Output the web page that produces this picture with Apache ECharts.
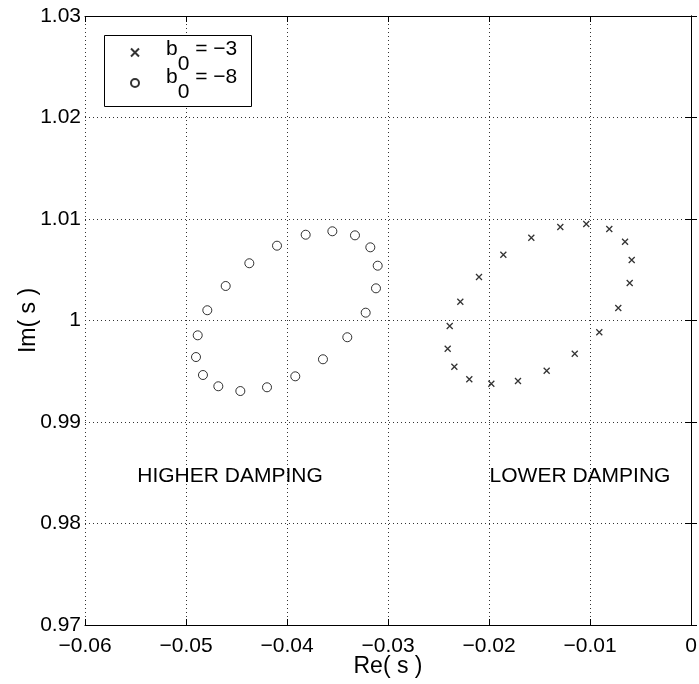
<!DOCTYPE html>
<html><head><meta charset="utf-8">
<script src="https://cdn.jsdelivr.net/npm/echarts@6/dist/echarts.min.js"></script>
<style>html,body{margin:0;padding:0;background:#fff}#c{width:699px;height:684px}</style>
</head><body><div id="c"></div>
<script>
const xTickLabels = ['−0.06','−0.05','−0.04','−0.03','−0.02','−0.01','0'];
const yTickLabels = ['0.97','0.98','0.99','1','1.01','1.02','1.03'];
const seriesNames = ['b0 = −3','b0 = −8'];

// b0 = -3 (crosses)
const reB3 = [-0.01037,-0.00809,-0.00653,-0.00587,-0.00607,-0.00720,-0.00908,-0.01151,-0.01429,-0.01713,
              -0.01977,-0.02195,-0.02343,-0.02409,-0.02389,-0.02284,-0.02099,-0.01858,-0.01581,-0.01294];
const imB3 = [1.00951,1.00902,1.00776,1.00596,1.00370,1.00123,0.99884,0.99673,0.99505,0.99404,
              0.99377,0.99421,0.99545,0.99722,0.99946,1.00185,1.00429,1.00648,1.00816,1.00921];
// b0 = -8 (circles)
const reB8 = [-0.03815,-0.03551,-0.03327,-0.03175,-0.03102,-0.03119,-0.03221,-0.03403,-0.03644,-0.03918,
              -0.04198,-0.04462,-0.04680,-0.04832,-0.04901,-0.04884,-0.04789,-0.04607,-0.04373,-0.04099];
const imB8 = [1.00845,1.00879,1.00839,1.00721,1.00540,1.00317,1.00077,0.99835,0.99618,0.99450,
              0.99342,0.99305,0.99352,0.99463,0.99640,0.99854,1.00101,1.00340,1.00564,1.00737];

const noteLabels = ['HIGHER DAMPING','LOWER DAMPING'];
const noteRe = [-0.04564,-0.01099];
const noteIm = [0.98465,0.98465];

const FONT = '"Liberation Sans", Arial, Helvetica, sans-serif';
const zip = (a,b) => a.map((v,i)=>[v,b[i]]);

const chart = echarts.init(document.getElementById('c'), null, {renderer:'canvas'});
const splitLine = {show:true, lineStyle:{color:'#333', width:1, type:[1,3]}};
const axisLine = {show:true, lineStyle:{color:'#000', width:1}};
const axisTick = {show:true, inside:true, length:6, lineStyle:{color:'#000'}};

const legendRich = {
  b:{fontSize:21, lineHeight:22, verticalAlign:'top', color:'#000', fontFamily:FONT},
  s:{fontSize:21, lineHeight:22, verticalAlign:'top', padding:[15,0,0,0], color:'#000', fontFamily:FONT},
  t:{fontSize:21, lineHeight:22, verticalAlign:'top', color:'#000', fontFamily:FONT}
};
function makeLegend(name, top, padBottom){
  return {
    data:[name], orient:'vertical', left:130, top:top, padding:0,
    itemWidth:10, itemHeight:8, z:5, selectedMode:false,
    formatter:(n)=>'{b|b}{s|0}{t|' + n.slice(2) + '}',
    textStyle:{color:'#000', fontFamily:FONT, fontSize:21, padding:[0,0,padBottom,21], rich:legendRich}
  };
}

chart.setOption({
  animation:false,
  backgroundColor:'#fff',
  textStyle:{fontFamily:FONT},
  grid:{left:85, right:8, top:16, bottom:59, containLabel:false, outerBoundsMode:'none'},
  xAxis:[{
    type:'value', min:-0.06, max:0, interval:0.01, position:'bottom',
    name:'Re( s )', nameLocation:'middle', nameGap:30, nameMoveOverlap:false,
    nameTextStyle:{fontSize:23, color:'#000', fontFamily:FONT},
    axisLine, axisTick, splitLine,
    axisLabel:{show:true, margin:11, fontSize:21, color:'#000', fontFamily:FONT,
      formatter:(v,i)=>xTickLabels[i] !== undefined ? xTickLabels[i] : ''}
  },{
    type:'value', min:-0.06, max:0, interval:0.01, position:'top',
    axisLine, axisTick, splitLine:{show:false}, axisLabel:{show:false}
  }],
  yAxis:[{
    type:'value', min:0.97, max:1.03, interval:0.01, position:'left',
    name:'Im( s )', nameLocation:'middle', nameGap:45, nameMoveOverlap:false,
    nameTextStyle:{fontSize:23, color:'#000', fontFamily:FONT},
    axisLine, axisTick, splitLine,
    axisLabel:{show:true, margin:4, fontSize:21, color:'#000', fontFamily:FONT,
      formatter:(v,i)=>yTickLabels[i] !== undefined ? yTickLabels[i] : ''}
  },{
    type:'value', min:0.97, max:1.03, interval:0.01, position:'right',
    axisLine, axisTick, splitLine:{show:false}, axisLabel:{show:false}
  }],
  graphic:[{
    type:'rect', left:104, top:35, z:3,
    shape:{x:0.5, y:0.5, width:147, height:71},
    style:{fill:'#fff', stroke:'#000', lineWidth:1}
  }],
  legend:[makeLegend(seriesNames[0], 39, 5), makeLegend(seriesNames[1], 67, 10)],
  series:[{
    name:seriesNames[0], type:'scatter', xAxisIndex:0, yAxisIndex:0,
    symbol:'path://M0,0L10,10M10,0L0,10', symbolSize:6,
    itemStyle:{color:'rgba(0,0,0,0)', borderColor:'#000', borderWidth:1.3},
    data:zip(reB3, imB3), z:2
  },{
    name:seriesNames[1], type:'scatter', xAxisIndex:0, yAxisIndex:0,
    symbol:'circle', symbolSize:9,
    itemStyle:{color:'rgba(0,0,0,0)', borderColor:'#000', borderWidth:1},
    data:zip(reB8, imB8), z:2
  },{
    name:'notes', type:'scatter', xAxisIndex:0, yAxisIndex:0, silent:true,
    symbol:'circle', symbolSize:0,
    itemStyle:{color:'#000'},
    label:{show:true, position:'inside', formatter:'{b}', fontSize:21, color:'#000',
      textBorderWidth:0, opacity:1, fontFamily:FONT},
    data:noteLabels.map((n,i)=>({name:n, value:[noteRe[i], noteIm[i]]}))
  }]
});
</script></body></html>
